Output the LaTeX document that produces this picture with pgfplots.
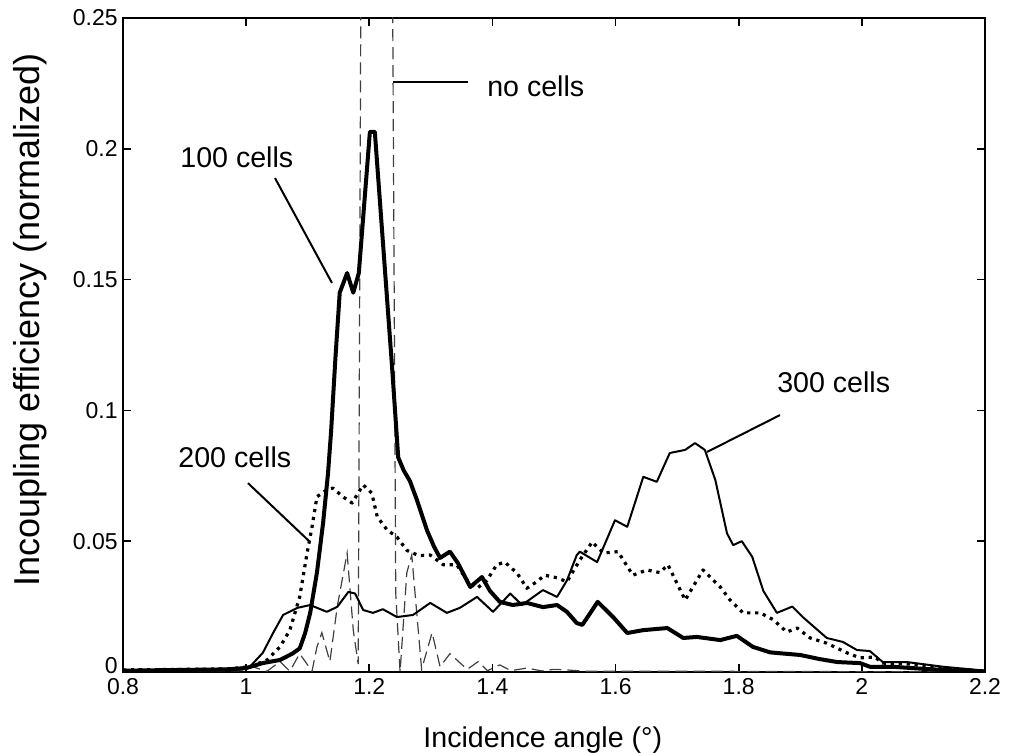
\documentclass[border=0pt]{standalone}
\usepackage{fontspec}
\setmainfont{Liberation Sans}
\usepackage{pgfplots}
\pgfplotsset{compat=1.18}
\newcommand{\tl}[1]{{\fontsize{11.5}{13}\selectfont #1}}
\begin{document}
\begin{tikzpicture}
\begin{axis}[
    scale only axis, width=431pt, height=327pt,
    xmin=0.8, xmax=2.2, ymin=0, ymax=0.25,
    xtick={0.8,1,1.2,1.4,1.6,1.8,2,2.2},
    xticklabels={\tl{0.8},\tl{1},\tl{1.2},\tl{1.4},\tl{1.6},\tl{1.8},\tl{2},\tl{2.2}},
    ytick={0,0.05,0.1,0.15,0.2,0.25},
    yticklabels={\tl{\raisebox{-1pt}[0pt][0pt]{0}},\tl{0.05},\tl{0.1},\tl{0.15},\tl{0.2},\tl{0.25}},
    tick align=inside, major tick length=4pt,
    major tick style={line width=0.8pt, black},
    axis line style={line width=1pt},
    xticklabel style={inner sep=3pt},
    yticklabel style={inner xsep=2.5pt, inner ysep=0pt},
    xlabel={Incidence angle (°)},
    ylabel={Incoupling efficiency (normalized)},
    every axis x label/.style={at={(axis description cs:0.487,-0.104)}, anchor=center, font=\fontsize{14.3}{16}\selectfont},
    every axis y label/.style={at={(axis description cs:-0.108,0.538)}, anchor=center, rotate=90, font=\fontsize{18}{20}\selectfont},
]
\coordinate (bl) at (rel axis cs:0,0);
\coordinate (tr) at (rel axis cs:1,1);
% no cells
\addplot[black!75, line width=0.6pt, dash pattern=on 6pt off 3pt] coordinates {
 (0.80,0.0003)(0.95,0.0005)(0.99,0.0005)(1.01,0.002)(1.034,0.0003)(1.055,0.004)
 (1.071,0.0003)(1.087,0.007)(1.107,0.0003)(1.115,0.0096)(1.123,0.015)(1.136,0.004)
 (1.148,0.025)(1.164,0.0455)(1.174,0.016)(1.182,0.003)(1.187,0.30)(1.237,0.30)
 (1.243,0.03)(1.25,0.0)(1.261,0.038)(1.269,0.0447)(1.285,0.001)(1.302,0.015)
 (1.315,0.002)(1.331,0.007)(1.345,0.004)(1.359,0.001)(1.377,0.004)(1.392,0.0005)
 (1.412,0.0027)(1.43,0.0005)(1.456,0.0015)(1.48,0.0004)(1.50,0.001)(1.52,0.0008)
 (1.55,0.0003)(1.7,0.0003)(2.2,0.0)
};
% 300 cells
\addplot[black, line width=1pt, line join=round] coordinates {
 (0.80,0.0005)(0.90,0.0008)(0.97,0.001)(1.006,0.002)(1.027,0.0073)(1.044,0.015)
 (1.06,0.0218)(1.083,0.0245)(1.104,0.0256)(1.131,0.023)(1.148,0.0249)(1.166,0.0306)
 (1.177,0.030)(1.19,0.0237)(1.206,0.0226)(1.222,0.024)(1.245,0.021)(1.271,0.0218)
 (1.299,0.0264)(1.326,0.0226)(1.347,0.0245)(1.375,0.0287)(1.401,0.023)(1.429,0.030)
 (1.448,0.0256)(1.482,0.0313)(1.505,0.0287)(1.521,0.035)(1.537,0.0447)(1.542,0.046)
 (1.57,0.042)(1.599,0.058)(1.619,0.0555)(1.645,0.0746)(1.667,0.0727)(1.688,0.0837)
 (1.713,0.0849)(1.729,0.0875)(1.745,0.0849)(1.762,0.0734)(1.781,0.053)(1.791,0.0485)
 (1.805,0.050)(1.822,0.044)(1.84,0.031)(1.862,0.0226)(1.887,0.025)(1.904,0.021)
 (1.943,0.013)(1.969,0.0115)(1.992,0.0084)(2.013,0.008)(2.034,0.0038)(2.073,0.0038)
 (2.132,0.002)(2.2,0.0005)
};
% 200 cells
\addplot[black, line width=1.6pt, line join=round, dash pattern=on 1.6pt off 2.4pt] coordinates {
 (0.80,0.0008)(0.90,0.001)(0.97,0.0012)(1.006,0.002)(1.034,0.0046)(1.055,0.0096)
 (1.071,0.016)(1.087,0.0287)(1.099,0.0455)(1.107,0.0554)(1.115,0.067)(1.131,0.0696)
 (1.141,0.0703)(1.157,0.067)(1.172,0.0646)(1.18,0.0677)(1.19,0.0715)(1.204,0.0684)
 (1.213,0.0593)(1.229,0.0543)(1.245,0.0516)(1.261,0.0465)(1.28,0.0445)(1.299,0.0447)
 (1.32,0.041)(1.342,0.041)(1.359,0.035)(1.375,0.032)(1.391,0.035)(1.407,0.041)
 (1.42,0.042)(1.44,0.0378)(1.456,0.032)(1.472,0.0345)(1.485,0.037)(1.505,0.036)
 (1.521,0.0345)(1.542,0.0428)(1.562,0.0497)(1.58,0.0455)(1.604,0.046)(1.628,0.037)
 (1.651,0.039)(1.672,0.038)(1.685,0.041)(1.713,0.0275)(1.742,0.039)(1.77,0.0325)
 (1.786,0.0275)(1.807,0.0226)(1.835,0.0226)(1.856,0.020)(1.878,0.0153)(1.895,0.0168)
 (1.916,0.013)(1.943,0.011)(1.976,0.0073)(1.997,0.0054)(2.021,0.0057)(2.034,0.0034)
 (2.078,0.003)(2.132,0.0015)(2.197,0.0004)
};
% 100 cells
\addplot[black, line width=2pt, line join=round] coordinates {
 (0.80,0.0005)(0.90,0.0008)(0.97,0.001)(1.00,0.0015)(1.027,0.0034)(1.055,0.0046)
 (1.075,0.007)(1.087,0.009)(1.096,0.015)(1.104,0.0226)(1.115,0.038)(1.125,0.057)
 (1.133,0.076)(1.138,0.092)(1.145,0.120)(1.152,0.145)(1.164,0.1525)(1.174,0.145)
 (1.183,0.1525)(1.201,0.2065)(1.209,0.2065)(1.237,0.1166)(1.247,0.082)(1.256,0.077)
 (1.266,0.073)(1.277,0.066)(1.294,0.054)(1.305,0.048)(1.315,0.0436)(1.331,0.046)
 (1.344,0.0416)(1.364,0.0325)(1.383,0.0363)(1.396,0.031)(1.412,0.0268)(1.433,0.0256)
 (1.456,0.0264)(1.482,0.0248)(1.505,0.0256)(1.521,0.023)(1.537,0.0187)(1.546,0.018)
 (1.571,0.0268)(1.596,0.021)(1.619,0.0149)(1.645,0.016)(1.684,0.0168)(1.71,0.013)
 (1.732,0.0134)(1.77,0.0122)(1.797,0.0138)(1.823,0.0096)(1.851,0.0075)(1.875,0.007)
 (1.90,0.0065)(1.93,0.005)(1.96,0.0038)(1.997,0.0034)(2.013,0.002)(2.05,0.002)
 (2.106,0.0011)(2.16,0.0005)(2.2,0.0002)
};
% annotations
\draw[line width=1pt] (axis cs:1.2385,0.2255) -- (axis cs:1.360,0.2255);
\node[anchor=base west, inner sep=0, font=\fontsize{14.3}{16}\selectfont] at (axis cs:1.391,0.2198) {no cells};
\draw[line width=1pt] (axis cs:1.0469,0.1888) -- (axis cs:1.1394,0.1487);
\node[anchor=base west, inner sep=0, font=\fontsize{14.3}{16}\selectfont] at (axis cs:0.8926,0.1927) {100 cells};
\draw[line width=1pt] (axis cs:1.003,0.0722) -- (axis cs:1.1037,0.0497);
\node[anchor=base west, inner sep=0, font=\fontsize{14.3}{16}\selectfont] at (axis cs:0.8893,0.078) {200 cells};
\draw[line width=1pt] (axis cs:1.867,0.0982) -- (axis cs:1.7485,0.0841);
\node[anchor=base west, inner sep=0, font=\fontsize{14.3}{16}\selectfont] at (axis cs:1.862,0.1067) {300 cells};
\end{axis}
\pgfresetboundingbox
\path[use as bounding box] ([shift={(-61.5pt,-40.5pt)}]bl) rectangle ([shift={(14.5pt,9pt)}]tr);
\end{tikzpicture}
\end{document}
